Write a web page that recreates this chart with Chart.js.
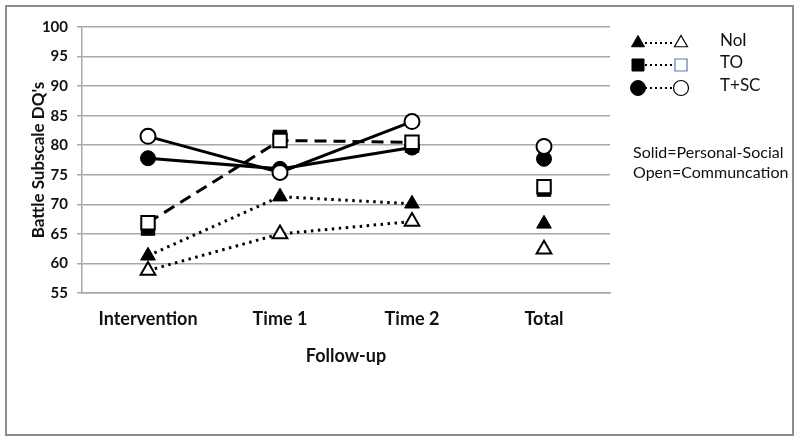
<!DOCTYPE html>
<html>
<head>
<meta charset="utf-8">
<script src="https://cdn.jsdelivr.net/npm/chart.js@4/dist/chart.umd.min.js"></script>
<style>
  html, body { margin: 0; padding: 0; background: #ffffff; }
  #wrap { position: relative; width: 800px; height: 441px; }
</style>
</head>
<body>
<div id="wrap"><canvas id="c" width="800" height="441"></canvas></div>
<script>
// ---- data ----
const categories = ['Intervention', 'Time 1', 'Time 2', 'Total'];
const yTicks = [55, 60, 65, 70, 75, 80, 85, 90, 95, 100];
const noiPersonalSocial = [61.3, 71.3, 70.1, 66.7];
const noiCommunication  = [58.8, 65.0, 67.1, 62.4];
const toPersonalSocial  = [65.9, 81.4, 79.9, 72.5];
const toCommunication   = [66.9, 80.8, 80.5, 73.0];
const tscPersonalSocial = [77.8, 76.0, 79.6, 77.7];
const tscCommunication  = [81.5, 75.4, 84.0, 79.8];
const legendGroups = ['NoI', 'TO', 'T+SC'];
const noteLines = ['Solid=Personal-Social', 'Open=Communcation'];

const FONT = 'Lato, "Open Sans", sans-serif';
const hideLastSegment = ctx => ctx.p1DataIndex === 3 ? 'rgba(0,0,0,0)' : undefined;

function series(label, data, style, filled, line, order) {
  return {
    label, data, order,
    pointStyle: style,
    pointRadius: style === 'rect' ? 9.5 : (style === 'triangle' ? 8.5 : 7.5),
    pointHoverRadius: style === 'rect' ? 9.5 : 8,
    pointBackgroundColor: filled ? '#000' : '#fff',
    pointBorderColor: '#000',
    pointBorderWidth: filled ? 1 : 2,
    borderColor: '#000',
    borderWidth: 3,
    borderDash: line === 'dotted' ? [2.5, 4.5] : (line === 'dashed' ? [12, 7] : []),
    showLine: line !== 'none',
    fill: false,
    tension: 0,
    segment: { borderColor: hideLastSegment }
  };
}

const frameAndLegend = {
  id: 'frameAndLegend',
  afterDraw(chart) {
    const ctx = chart.ctx;
    ctx.save();
    // outer frame
    ctx.strokeStyle = '#8c8c8c';
    ctx.lineWidth = 2;
    ctx.strokeRect(6, 6, 787, 429);
    // custom legend
    const styles = ['triangle', 'rect', 'circle'];
    const rowsY = [43, 65, 88];
    legendGroups.forEach((name, i) => {
      const y = rowsY[i];
      ctx.save();
      ctx.strokeStyle = '#000';
      ctx.lineWidth = 2;
      ctx.setLineDash([2, 3]);
      ctx.beginPath();
      ctx.moveTo(645, y);
      ctx.lineTo(673, y);
      ctx.stroke();
      ctx.restore();
      const st = styles[i];
      const r = st === 'rect' ? 8.5 : 7.5;
      ctx.fillStyle = '#000';
      ctx.strokeStyle = '#000';
      ctx.lineWidth = 1;
      Chart.helpers.drawPoint(ctx, { pointStyle: st, radius: r, rotation: 0, borderWidth: 1 }, 638, y);
      ctx.fillStyle = '#fff';
      ctx.strokeStyle = st === 'rect' ? '#5a7bb5' : '#000';
      ctx.lineWidth = 1.2;
      Chart.helpers.drawPoint(ctx, { pointStyle: st, radius: r, rotation: 0, borderWidth: 1.2 }, 681, y);
      ctx.fillStyle = '#111';
      ctx.font = '17px ' + FONT;
      ctx.textAlign = 'left';
      ctx.textBaseline = 'middle';
      ctx.fillText(name, 720, y - 2);
    });
    ctx.font = '16px ' + FONT;
    ctx.fillStyle = '#111';
    ctx.textAlign = 'left';
    ctx.textBaseline = 'middle';
    ctx.fillText(noteLines[0], 633, 153);
    ctx.fillText(noteLines[1], 633, 173);
    ctx.restore();
  }
};

new Chart(document.getElementById('c'), {
  type: 'line',
  data: {
    labels: categories,
    datasets: [
      series('NoI Communication', noiCommunication, 'triangle', false, 'dotted', 0),
      series('TO Communication', toCommunication, 'rect', false, 'dashed', 0),
      series('T+SC Communication', tscCommunication, 'circle', false, 'solid', 0),
      series('NoI Personal-Social', noiPersonalSocial, 'triangle', true, 'dotted', 1),
      series('TO Personal-Social', toPersonalSocial, 'rect', true, 'none', 1),
      series('T+SC Personal-Social', tscPersonalSocial, 'circle', true, 'solid', 1)
    ]
  },
  options: {
    responsive: false,
    animation: false,
    events: [],
    layout: { padding: { left: 0, right: 190, top: 27, bottom: 70 } },
    plugins: { legend: { display: false }, tooltip: { enabled: false }, title: { display: false } },
    scales: {
      x: {
        offset: true,
        grid: { display: false, drawTicks: false },
        border: { display: true, color: '#a8a8a8', width: 1.5 },
        ticks: { color: '#111', padding: 15, font: { family: FONT, size: 18, weight: 'bold' }, maxRotation: 0 },
        title: { display: true, text: 'Follow-up', color: '#111', padding: { top: 0, bottom: 4 },
                 font: { family: FONT, size: 18, weight: 'bold' } },
        afterFit(scale) { scale.height = 78; }
      },
      y: {
        min: 55, max: 100,
        afterBuildTicks(scale) { scale.ticks = yTicks.map(v => ({ value: v })); },
        grid: { color: '#a8a8a8', lineWidth: 1.5, tickLength: 5, drawTicks: true },
        border: { display: true, color: '#a8a8a8', width: 1.5 },
        ticks: { color: '#111', padding: 9, font: { family: FONT, size: 15, weight: 'bold' } },
        title: { display: true, text: "Battle Subscale DQ's", color: '#111', padding: { top: 28, bottom: 0 },
                 font: { family: FONT, size: 17, weight: 'bold' } },
        afterFit(scale) { scale.width = 82; }
      }
    }
  },
  plugins: [frameAndLegend]
});
</script>
</body>
</html>
